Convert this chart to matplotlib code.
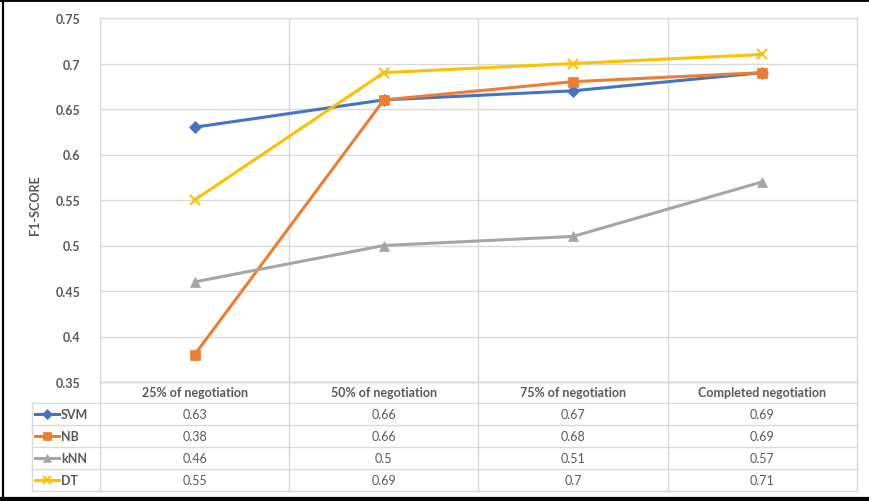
import matplotlib
matplotlib.use("Agg")
import matplotlib.pyplot as plt
from matplotlib.lines import Line2D

# Data
stages = ["25% of negotiation", "50% of negotiation", "75% of negotiation", "Completed negotiation"]
svm = [0.63, 0.66, 0.67, 0.69]
nb = [0.38, 0.66, 0.68, 0.69]
knn = [0.46, 0.50, 0.51, 0.57]
dt = [0.55, 0.69, 0.70, 0.71]
y_ticks = [0.35, 0.4, 0.45, 0.5, 0.55, 0.6, 0.65, 0.7, 0.75]

series = [
    ("SVM", svm, "#4472C4", "D", 6),
    ("NB", nb, "#ED7D31", "s", 7),
    ("kNN", knn, "#A5A5A5", "^", 7),
    ("DT", dt, "#FFC000", "x", 7),
]

W, H = 870, 502
fig = plt.figure(figsize=(W / 100, H / 100), dpi=100)
plt.rcParams["font.family"] = ["Lato", "DejaVu Sans"]
TXT = "#595959"
GRID = "#D9D9D9"
FS = 9


def fx(px):
    return px / W


def fy(px):
    return 1 - px / H


# Main plot area
L, R, T, B = 100, 857, 19, 383
ax = fig.add_axes([fx(L), fy(B), fx(R) - fx(L), fy(T) - fy(B)])
x = list(range(len(stages)))
for name, vals, color, marker, ms in series:
    ax.plot(x, vals, color=color, lw=2.2, marker=marker, ms=ms,
            mew=1.5 if marker == "x" else 0.5, mec=color, mfc=color, zorder=3,
            clip_on=False)
ax.set_xlim(-0.5, len(stages) - 0.5)
ax.set_ylim(0.35, 0.75)
ax.set_yticks(y_ticks)
ax.set_yticklabels([f"{v:g}" for v in y_ticks], color=TXT, fontsize=FS, fontweight="bold")
ax.tick_params(axis="y", length=0, pad=14)
ax.set_xticks([i + 0.5 for i in x[:-1]])
ax.set_xticklabels([])
ax.tick_params(axis="x", length=0)
ax.grid(True, color=GRID, lw=1)
for s in ax.spines.values():
    s.set_color(GRID)
    s.set_linewidth(1)
ax.set_ylabel("F1-SCORE", color=TXT, fontsize=FS, fontweight="bold")
ax.yaxis.set_label_coords((41 - L) / (R - L), 0.49)

# Data table below the plot
TB = 492
tax = fig.add_axes([fx(L), fy(TB), fx(R) - fx(L), fy(B) - fy(TB)])
tax.set_xlim(-0.5, len(stages) - 0.5)
row_edges = [0, 21, 43, 65, 87, 109]
tax.set_ylim(109, 0)
tax.axis("off")
unit = (R - L) / len(stages)
left_col = -0.5 - (L - 32) / unit

# horizontal rules
tax.plot([-0.5, 3.5], [0, 0], color=GRID, lw=1, clip_on=False)
for y in row_edges[1:]:
    tax.plot([left_col, 3.5], [y, y], color=GRID, lw=1, clip_on=False)
# vertical rules
for xv in [-0.5, 0.5, 1.5, 2.5, 3.5]:
    tax.plot([xv, xv], [0, 109], color=GRID, lw=1, clip_on=False)
tax.plot([left_col, left_col], [row_edges[1], 109], color=GRID, lw=1, clip_on=False)

for i, s in enumerate(stages):
    tax.text(i, 10.5, s, ha="center", va="center", color=TXT, fontsize=FS, fontweight="bold")

for r, (name, vals, color, marker, ms) in enumerate(series):
    yc = (row_edges[r + 1] + row_edges[r + 2]) / 2
    x0 = left_col + 3 / unit
    x1 = left_col + 27 / unit
    tax.plot([x0, x1], [yc, yc], color=color, lw=2.2, clip_on=False)
    tax.plot([(x0 + x1) / 2], [yc], color=color, marker=marker, ms=ms - 1,
             mew=1.5 if marker == "x" else 0.5, clip_on=False)
    tax.text(x1 + 2 / unit, yc, name, ha="left", va="center", color=TXT,
             fontsize=FS, fontweight="bold")
    for i, v in enumerate(vals):
        tax.text(i, yc, f"{v:g}", ha="center", va="center", color=TXT, fontsize=FS)

# Outer frame
fig.add_artist(Line2D([0, 1], [fy(1), fy(1)], color="black", lw=2, transform=fig.transFigure))
fig.add_artist(Line2D([0, 1], [fy(500), fy(500)], color="black", lw=3, transform=fig.transFigure))
fig.add_artist(Line2D([fx(3), fx(3)], [fy(0), fy(502)], color="black", lw=1.6, transform=fig.transFigure))

fig.savefig("out.png", dpi=100, facecolor="white")
